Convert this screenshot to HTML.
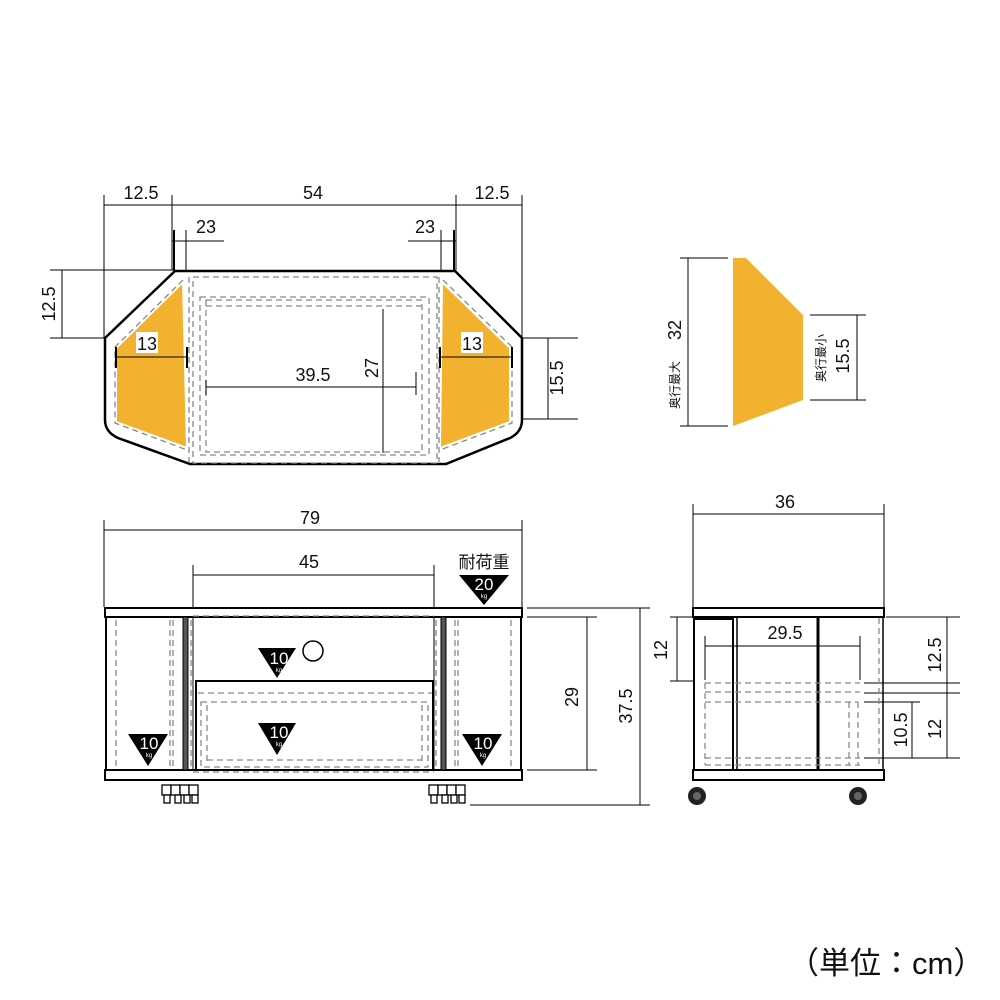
<!DOCTYPE html>
<html><head><meta charset="utf-8"><style>
html,body{margin:0;padding:0;background:#fff}
svg{display:block}
text{font-family:"Liberation Sans Narrow","Liberation Sans","Noto Sans CJK JP",sans-serif;fill:#111}
</style></head><body>
<svg width="1000" height="1000" viewBox="0 0 1000 1000" xmlns="http://www.w3.org/2000/svg">
<g stroke="#000" stroke-width="1" fill="none">
<line x1="104" y1="205" x2="522" y2="205"/>
<line x1="104" y1="195" x2="104" y2="338"/>
<line x1="172" y1="195" x2="172" y2="270"/>
<line x1="174" y1="230" x2="174" y2="270" stroke-width="2"/>
<line x1="186" y1="230" x2="186" y2="270"/>
<line x1="172" y1="241" x2="224" y2="241"/>
<line x1="456" y1="195" x2="456" y2="270"/>
<line x1="454" y1="230" x2="454" y2="270" stroke-width="2"/>
<line x1="441" y1="230" x2="441" y2="270"/>
<line x1="408" y1="241" x2="456" y2="241"/>
<line x1="522" y1="195" x2="522" y2="338"/>
<line x1="50" y1="270" x2="175" y2="270"/>
<line x1="50" y1="338" x2="105" y2="338"/>
<line x1="62" y1="270" x2="62" y2="338"/>
<line x1="522" y1="338" x2="578" y2="338"/>
<line x1="522" y1="419" x2="578" y2="419"/>
<line x1="548" y1="338" x2="548" y2="419"/>
</g>
<path d="M175,271 L455,271 L522,338 L522,420 Q522,432 510,438 L446,464 L190,464 L118,438 Q105,432 105,420 L105,338 Z" fill="#fff" stroke="#000" stroke-width="2.5"/>
<polygon points="183,282 116,348 116,422 187,448" fill="#f2b22f" stroke="#fff" stroke-width="2"/>
<polygon points="442,282 510,348 510,422 440,448" fill="#f2b22f" stroke="#fff" stroke-width="2"/>
<g fill="none" stroke="#888" stroke-width="1.3" stroke-dasharray="6,4">
<polyline points="183,280 115,347 115,423 187,450"/>
<polyline points="443,280 512,347 512,423 440,450"/>
<rect x="193" y="277" width="244" height="186"/>
<rect x="200" y="297" width="229" height="158"/>
<rect x="206" y="300" width="216" height="152"/>
<line x1="206" y1="306" x2="422" y2="306"/>
<line x1="189" y1="277" x2="189" y2="462"/>
<line x1="439" y1="277" x2="439" y2="462"/>
</g>
<g stroke="#000" stroke-width="1">
<line x1="116" y1="357" x2="187" y2="357"/>
<line x1="116" y1="347" x2="116" y2="368" stroke-width="2"/>
<line x1="187" y1="347" x2="187" y2="368" stroke-width="2"/>
<line x1="440" y1="357" x2="512" y2="357"/>
<line x1="440" y1="347" x2="440" y2="368" stroke-width="2"/>
<line x1="512" y1="347" x2="512" y2="368" stroke-width="2"/>
<line x1="206" y1="387" x2="416" y2="387"/>
<line x1="206" y1="380" x2="206" y2="395"/>
<line x1="416" y1="372" x2="416" y2="395"/>
<line x1="383" y1="309" x2="383" y2="453"/>
</g>
<rect x="136" y="332" width="22" height="21" fill="#fff"/>
<rect x="461" y="332" width="22" height="21" fill="#fff"/>
<g font-size="18" text-anchor="middle">
<text x="141" y="199">12.5</text>
<text x="313" y="199">54</text>
<text x="492" y="199">12.5</text>
<text x="206" y="233">23</text>
<text x="425" y="233">23</text>
<text x="147" y="350">13</text>
<text x="472" y="350">13</text>
<text x="313" y="381">39.5</text>
<text transform="translate(378,368) rotate(-90)">27</text>
<text transform="translate(55,304) rotate(-90)">12.5</text>
<text transform="translate(563,378) rotate(-90)">15.5</text>
</g>
<polygon points="733,258 746,258 803,315 803,400 733,426" fill="#f2b22f"/>
<g stroke="#000" stroke-width="1">
<line x1="680" y1="258" x2="728" y2="258"/>
<line x1="680" y1="426" x2="728" y2="426"/>
<line x1="688" y1="258" x2="688" y2="426"/>
<line x1="810" y1="315" x2="866" y2="315"/>
<line x1="810" y1="400" x2="866" y2="400"/>
<line x1="857" y1="315" x2="857" y2="400"/>
</g>
<g text-anchor="middle">
<text font-size="18" transform="translate(681,330) rotate(-90)">32</text>
<text font-size="12" transform="translate(679,385) rotate(-90)">奥行最大</text>
<text font-size="12" transform="translate(825,358) rotate(-90)">奥行最小</text>
<text font-size="18" transform="translate(849,356) rotate(-90)">15.5</text>
</g>
<g stroke="#000" stroke-width="1" fill="none">
<line x1="104" y1="530" x2="522" y2="530"/>
<line x1="104" y1="520" x2="104" y2="607"/>
<line x1="522" y1="520" x2="522" y2="607"/>
<line x1="193" y1="575" x2="434" y2="575"/>
<line x1="193" y1="565" x2="193" y2="607"/>
<line x1="434" y1="565" x2="434" y2="607"/>
<line x1="527" y1="608" x2="650" y2="608"/>
<line x1="527" y1="617" x2="597" y2="617"/>
<line x1="527" y1="770" x2="597" y2="770"/>
<line x1="470" y1="805" x2="650" y2="805"/>
<line x1="587" y1="617" x2="587" y2="770"/>
<line x1="640" y1="608" x2="640" y2="805"/>
</g>
<g stroke="#000" fill="#fff">
<rect x="105" y="608" width="417" height="9" stroke-width="2"/>
<rect x="105" y="770" width="417" height="10" stroke-width="2"/>
<line x1="106" y1="617" x2="106" y2="770" stroke-width="2"/>
<line x1="521" y1="617" x2="521" y2="770" stroke-width="2"/>
<rect x="183" y="617" width="5" height="153" fill="#555" stroke-width="1"/>
<rect x="441" y="617" width="5" height="153" fill="#555" stroke-width="1"/>
<line x1="193" y1="617" x2="193" y2="770" stroke-width="1"/>
<line x1="434" y1="617" x2="434" y2="770" stroke-width="1"/>
<rect x="196" y="681" width="237" height="89" stroke-width="2" fill="none"/>
<circle cx="313" cy="651" r="10" stroke-width="1.5"/>
</g>
<g fill="none" stroke="#888" stroke-width="1.3" stroke-dasharray="6,4">
<line x1="116" y1="620" x2="116" y2="768"/>
<line x1="170" y1="620" x2="170" y2="768"/>
<line x1="173" y1="620" x2="173" y2="768"/>
<line x1="191" y1="620" x2="191" y2="768"/>
<line x1="436" y1="620" x2="436" y2="768"/>
<line x1="455" y1="620" x2="455" y2="768"/>
<line x1="458" y1="620" x2="458" y2="768"/>
<line x1="511" y1="620" x2="511" y2="768"/>
<line x1="193" y1="616" x2="434" y2="616"/>
<line x1="198" y1="693" x2="432" y2="693"/>
<rect x="201" y="702" width="227" height="65"/>
<line x1="207" y1="705" x2="207" y2="763"/>
<line x1="422" y1="705" x2="422" y2="763"/>
<line x1="207" y1="760" x2="422" y2="760"/>
<line x1="193" y1="772" x2="434" y2="772"/>
</g>
<g stroke="#000" stroke-width="1.3" fill="#fff">
<rect x="162" y="785" width="9" height="10"/><rect x="171" y="785" width="9" height="10"/><rect x="180" y="785" width="9" height="10"/><rect x="189" y="785" width="9" height="10"/>
<rect x="164" y="795" width="6" height="8"/><rect x="175" y="795" width="6" height="8"/><rect x="184" y="795" width="6" height="8"/><rect x="192" y="795" width="6" height="8"/>
<rect x="429" y="785" width="9" height="10"/><rect x="438" y="785" width="9" height="10"/><rect x="447" y="785" width="9" height="10"/><rect x="456" y="785" width="9" height="10"/>
<rect x="431" y="795" width="6" height="8"/><rect x="442" y="795" width="6" height="8"/><rect x="451" y="795" width="6" height="8"/><rect x="459" y="795" width="6" height="8"/>
</g>
<g>
<polygon points="459,575 509,575 484,605" fill="#000"/>
<polygon points="258,648 296,648 277,678" fill="#000"/>
<polygon points="258,723 296,723 277,755" fill="#000"/>
<polygon points="128,734 168,734 148,766" fill="#000"/>
<polygon points="462,734 502,734 482,766" fill="#000"/>
</g>
<g text-anchor="middle">
<text x="484" y="590" font-size="17" style="fill:#fff">20</text><text x="484" y="598" font-size="6" style="fill:#fff">kg</text>
<text x="279" y="664" font-size="17" style="fill:#fff">10</text><text x="279" y="672" font-size="6" style="fill:#fff">kg</text>
<text x="279" y="738" font-size="17" style="fill:#fff">10</text><text x="279" y="746" font-size="6" style="fill:#fff">kg</text>
<text x="149" y="749" font-size="17" style="fill:#fff">10</text><text x="149" y="757" font-size="6" style="fill:#fff">kg</text>
<text x="483" y="749" font-size="17" style="fill:#fff">10</text><text x="483" y="757" font-size="6" style="fill:#fff">kg</text>
</g>
<g font-size="18" text-anchor="middle">
<text x="310" y="524">79</text>
<text x="309" y="568">45</text>
<text x="484" y="568" font-size="17">耐荷重</text>
<text transform="translate(578,697) rotate(-90)">29</text>
<text transform="translate(632,706) rotate(-90)">37.5</text>
</g>
<g stroke="#000" stroke-width="1" fill="none">
<line x1="693" y1="514" x2="884" y2="514"/>
<line x1="693" y1="504" x2="693" y2="607"/>
<line x1="884" y1="504" x2="884" y2="607"/>
<line x1="705" y1="646" x2="860" y2="646"/>
<line x1="705" y1="636" x2="705" y2="680"/>
<line x1="860" y1="636" x2="860" y2="680"/>
<line x1="670" y1="617" x2="693" y2="617"/>
<line x1="670" y1="681" x2="693" y2="681"/>
<line x1="677" y1="617" x2="677" y2="681"/>
<line x1="886" y1="617" x2="960" y2="617"/>
<line x1="864" y1="683" x2="960" y2="683"/>
<line x1="864" y1="693" x2="960" y2="693"/>
<line x1="864" y1="758" x2="960" y2="758"/>
<line x1="864" y1="702" x2="920" y2="702"/>
<line x1="947" y1="617" x2="947" y2="758"/>
<line x1="912" y1="702" x2="912" y2="758"/>
</g>
<g stroke="#000" fill="#fff">
<rect x="693" y="608" width="191" height="9" stroke-width="2"/>
<rect x="693" y="770" width="191" height="10" stroke-width="2"/>
<line x1="694" y1="617" x2="694" y2="770" stroke-width="2"/>
<line x1="883" y1="617" x2="883" y2="770" stroke-width="1.5"/>
<line x1="733" y1="618" x2="733" y2="770" stroke-width="2"/>
<line x1="737" y1="618" x2="737" y2="770" stroke-width="1.5"/>
<line x1="818" y1="618" x2="818" y2="770" stroke-width="3"/>
<line x1="694" y1="619" x2="733" y2="619" stroke-width="2"/>
</g>
<g fill="none" stroke="#888" stroke-width="1.3" stroke-dasharray="6,4">
<line x1="705" y1="683" x2="860" y2="683"/>
<line x1="705" y1="692" x2="860" y2="692"/>
<line x1="705" y1="702" x2="858" y2="702"/>
<line x1="705" y1="758" x2="860" y2="758"/>
<line x1="705" y1="765" x2="860" y2="765"/>
<line x1="705" y1="683" x2="705" y2="765"/>
<line x1="849" y1="702" x2="849" y2="765"/>
<line x1="858" y1="702" x2="858" y2="765"/>
<line x1="879" y1="618" x2="879" y2="768"/>
</g>
<g>
<circle cx="697" cy="796" r="9" fill="#222"/><circle cx="697" cy="796" r="4" fill="#666"/>
<circle cx="858" cy="796" r="9" fill="#222"/><circle cx="858" cy="796" r="4" fill="#666"/>
</g>
<g font-size="18" text-anchor="middle">
<text x="785" y="508">36</text>
<text x="785" y="639">29.5</text>
<text transform="translate(667,650) rotate(-90)">12</text>
<text transform="translate(941,655) rotate(-90)">12.5</text>
<text transform="translate(941,729) rotate(-90)">12</text>
<text transform="translate(907,730) rotate(-90)">10.5</text>
</g>
<text x="788" y="974" font-size="31">（単位：cm）</text>
</svg>
</body></html>
